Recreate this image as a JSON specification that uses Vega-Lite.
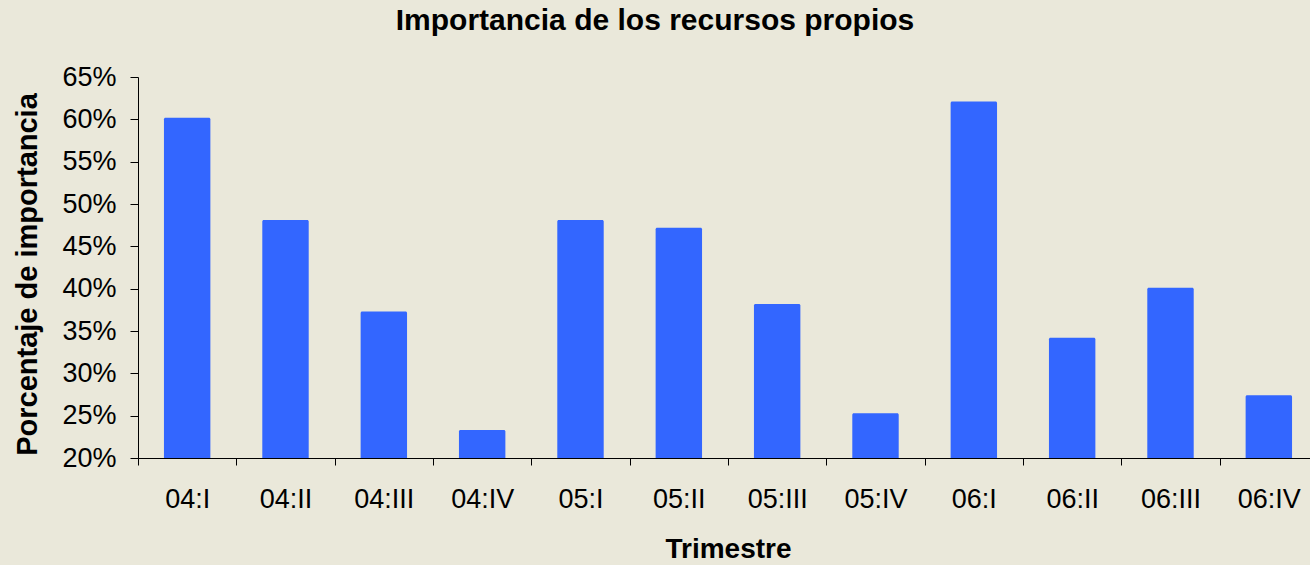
{
  "$schema": "https://vega.github.io/schema/vega-lite/v6.json",
  "width": 1180,
  "height": 381,
  "autosize": {"type": "none"},
  "padding": {"left": 138, "top": 77, "right": -8, "bottom": 107},
  "background": "#EAE8DA",
  "title": {
    "text": "Importancia de los recursos propios",
    "font": "Liberation Sans",
    "fontSize": 30,
    "fontWeight": "bold",
    "color": "#000000",
    "anchor": "middle",
    "dx": -73,
    "baseline": "alphabetic",
    "offset": 3
  },
  "data": {
    "values": [
      {"trimestre": "04:I", "valor": 0.602},
      {"trimestre": "04:II", "valor": 0.481},
      {"trimestre": "04:III", "valor": 0.373},
      {"trimestre": "04:IV", "valor": 0.233},
      {"trimestre": "05:I", "valor": 0.481},
      {"trimestre": "05:II", "valor": 0.472},
      {"trimestre": "05:III", "valor": 0.382},
      {"trimestre": "05:IV", "valor": 0.253},
      {"trimestre": "06:I", "valor": 0.621},
      {"trimestre": "06:II", "valor": 0.342},
      {"trimestre": "06:III", "valor": 0.401},
      {"trimestre": "06:IV", "valor": 0.274}
    ]
  },
  "mark": {"type": "bar", "color": "#3366FF", "width": {"band": 0.472}, "cornerRadiusTopLeft": 1.5, "cornerRadiusTopRight": 1.5},
  "encoding": {
    "x": {
      "field": "trimestre",
      "type": "nominal",
      "sort": null,
      "title": "Trimestre",
      "scale": {"paddingInner": 0, "paddingOuter": 0},
      "axis": {
        "labelAngle": 0,
        "tickBand": "extent",
        "tickSize": 7,
        "labelPadding": 21,
        "titlePadding": 23
      }
    },
    "y": {
      "field": "valor",
      "type": "quantitative",
      "title": "Porcentaje de importancia",
      "scale": {"domain": [0.2, 0.65], "zero": false, "nice": false},
      "axis": {
        "values": [0.2, 0.25, 0.3, 0.35, 0.4, 0.45, 0.5, 0.55, 0.6, 0.65],
        "format": ".0%",
        "grid": false,
        "tickSize": 8,
        "labelPadding": 14,
        "titlePadding": 19,
        "titleFontSize": 29,
        "titleY": 197
      }
    },
    "y2": {"datum": 0.2}
  },
  "config": {
    "view": {"stroke": null},
    "axis": {
      "domainColor": "#000000",
      "tickColor": "#000000",
      "domainWidth": 1,
      "tickWidth": 1,
      "labelFont": "Liberation Sans",
      "labelFontSize": 27,
      "labelColor": "#000000",
      "titleFont": "Liberation Sans",
      "titleFontSize": 28,
      "titleFontWeight": "bold",
      "titleColor": "#000000",
      "labelOverlap": false
    }
  }
}
